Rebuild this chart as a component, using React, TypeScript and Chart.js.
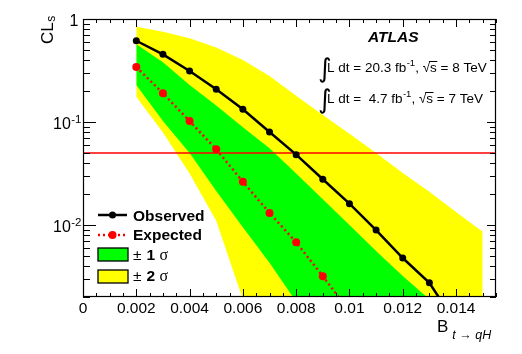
import React, { useEffect, useRef } from 'react';
import { Chart, registerables } from 'chart.js';

Chart.register(...registerables);

// ---------------- data ----------------
const bandB = [0.002, 0.003, 0.004, 0.005, 0.006, 0.007, 0.008, 0.009, 0.01, 0.011, 0.012, 0.013, 0.014, 0.015];
const band2SigmaHigh = [0.84, 0.75, 0.65, 0.53, 0.4, 0.28, 0.18, 0.117, 0.077, 0.05, 0.032, 0.021, 0.0134, 0.0086];
const band1SigmaHigh = [0.57, 0.38, 0.229, 0.145, 0.089, 0.0555, 0.0316, 0.0178, 0.01, 0.0056, 0.0032, 0.0019, 0.00105, 0.0006];
const band1SigmaLow = [0.229, 0.102, 0.05, 0.0214, 0.0095, 0.0043, 0.0018, 0.0008, 0.00035, 0.00016, 0.00007, 0.00003, 0.000014, 0.000006];
const band2SigmaLow = [0.176, 0.079, 0.0316, 0.011, 0.0019, 0.00034, 0.00006, 0.00001, 0.000002, 0.0000004, 0.0000001, 0.00000002, 0.000000005, 0.000000001];

const obsB = [0.002, 0.003, 0.004, 0.005, 0.006, 0.007, 0.008, 0.009, 0.01, 0.011, 0.012, 0.013, 0.014];
const obsCLs = [0.615, 0.454, 0.313, 0.208, 0.133, 0.08, 0.0482, 0.0278, 0.0161, 0.00894, 0.00478, 0.00275, 0.0011];

const expB = [0.002, 0.003, 0.004, 0.005, 0.006, 0.007, 0.008, 0.009, 0.01];
const expCLs = [0.342, 0.19, 0.102, 0.0543, 0.0263, 0.0131, 0.00679, 0.00318, 0.00145];

const thresholdB = [0, 0.0155];
const thresholdCLs = [0.05, 0.05];

const xMin = 0;
const xMax = 0.0155;
const yMin = 0.002;
const yMax = 1;

const xTickValues = [0, 0.002, 0.004, 0.006, 0.008, 0.01, 0.012, 0.014];
const xTickLabels = ['0', '0.002', '0.004', '0.006', '0.008', '0.01', '0.012', '0.014'];
const yTickValues = [1, 0.1, 0.01];
const yTickBase = ['1', '10', '10'];
const yTickExp = ['', '-1', '-2'];

const legendLabels = ['Observed', 'Expected', '1', '2'];

// ---------------- helpers ----------------
const SANS = '"Liberation Sans", Arial, Helvetica, sans-serif';
const SERIF = '"Liberation Serif", "Times New Roman", serif';

function txt(
  ctx: CanvasRenderingContext2D,
  s: string,
  x: number,
  y: number,
  size: number,
  o: { bold?: boolean; italic?: boolean; align?: CanvasTextAlign; family?: string; color?: string } = {}
) {
  ctx.font = `${o.italic ? 'italic ' : ''}${o.bold ? 'bold ' : ''}${size}px ${o.family || SANS}`;
  ctx.textAlign = o.align || 'left';
  ctx.textBaseline = 'alphabetic';
  ctx.fillStyle = o.color || '#000';
  ctx.fillText(s, x, y);
  return ctx.measureText(s).width;
}

const pts = (xs: number[], ys: number[]) => xs.map((x, i) => ({ x, y: ys[i] }));

const decorPlugin = {
  id: 'decor',
  afterDatasetsDraw(chart: any) {
    const { ctx, chartArea: a, scales } = chart;
    const xs = scales.x;
    const ys = scales.y;
    ctx.save();
    ctx.strokeStyle = '#000';
    ctx.lineWidth = 1;
    ctx.beginPath();
    // x ticks (bottom and top, pointing inward)
    for (let i = 0; i * 0.0005 <= xMax + 1e-9; i++) {
      const v = i * 0.0005;
      const px = Math.round(xs.getPixelForValue(v)) + 0.5;
      const len = i % 4 === 0 ? 8 : 4;
      ctx.moveTo(px, a.bottom);
      ctx.lineTo(px, a.bottom - len);
      ctx.moveTo(px, a.top);
      ctx.lineTo(px, a.top + len);
    }
    // y ticks (left and right)
    for (let e = -3; e <= 0; e++) {
      for (let k = 1; k <= 9; k++) {
        const v = k * Math.pow(10, e);
        if (v < yMin * 0.999 || v > yMax * 1.001) continue;
        const py = Math.round(ys.getPixelForValue(v)) + 0.5;
        const major = k === 1;
        ctx.moveTo(a.left, py);
        ctx.lineTo(a.left + (major ? 13 : 7), py);
        ctx.moveTo(a.right, py);
        ctx.lineTo(a.right - (major ? 9 : 6), py);
      }
    }
    ctx.stroke();
    // frame
    ctx.lineWidth = 1.2;
    ctx.strokeRect(a.left + 0.5, a.top + 0.5, a.right - a.left - 1, a.bottom - a.top - 1);
    ctx.restore();
  },
  afterDraw(chart: any) {
    const { ctx, scales } = chart;
    const xs = scales.x;
    const ys = scales.y;
    ctx.save();
    // x tick labels
    xTickValues.forEach((v, i) => {
      txt(ctx, xTickLabels[i], xs.getPixelForValue(v), 313, 15.5, { align: 'center' });
    });
    // y tick labels
    yTickValues.forEach((v, i) => {
      const base = ys.getPixelForValue(v) + 6.5;
      if (!yTickExp[i]) {
        txt(ctx, yTickBase[i], 78.5, base, 16, { align: 'right' });
      } else {
        ctx.font = `11.5px ${SANS}`;
        const w2 = ctx.measureText(yTickExp[i]).width;
        ctx.font = `16px ${SANS}`;
        const w1 = ctx.measureText(yTickBase[i]).width;
        const R = 81.5;
        txt(ctx, yTickBase[i], R - w2 - w1 - 0.5, base, 16);
        txt(ctx, yTickExp[i], R - w2, base - 6, 11.5);
      }
    });
    // x title
    const wB = txt(ctx, 'B', 437, 332, 17);
    txt(ctx, 't \u2192 qH', 437 + wB + 4, 338.5, 12.5, { italic: true });
    // y title (rotated)
    ctx.save();
    ctx.translate(53, 44);
    ctx.rotate(-Math.PI / 2);
    const wCL = txt(ctx, 'CL', 0, 0, 17);
    txt(ctx, 's', wCL + 0.5, 2, 12);
    ctx.restore();

    // ATLAS label
    txt(ctx, 'ATLAS', 368, 41.5, 15.5, { bold: true, italic: true });
    const lumi = (y: number, a: string, b: string) => {
      // integral sign
      txt(ctx, '\u222B', 318, y + 5, 26, { family: '"DejaVu Sans", sans-serif' });
      let x = 327;
      x += txt(ctx, a, x, y, 13.5);
      x += txt(ctx, '-1', x + 0.5, y - 6, 9.5) + 0.5;
      x += txt(ctx, ', ', x, y, 13.5);
      const wr = txt(ctx, '\u221A', x, y, 13.5);
      x += wr;
      const ws = txt(ctx, 's', x, y, 13.5);
      ctx.strokeStyle = '#000';
      ctx.lineWidth = 1;
      ctx.beginPath();
      ctx.moveTo(x - 1, y - 10.5);
      ctx.lineTo(x + ws + 0.5, y - 10.5);
      ctx.stroke();
      x += ws;
      txt(ctx, b, x, y, 13.5);
    };
    lumi(72, 'L dt = 20.3 fb', ' = 8 TeV');
    lumi(103, 'L dt =  4.7 fb', ' = 7 TeV');

    // legend
    const lx0 = 98;
    const lx1 = 127;
    const lmx = 112.5;
    // Observed
    ctx.strokeStyle = '#000';
    ctx.lineWidth = 2.5;
    ctx.beginPath();
    ctx.moveTo(lx0, 215);
    ctx.lineTo(lx1, 215);
    ctx.stroke();
    ctx.fillStyle = '#000';
    ctx.beginPath();
    ctx.arc(lmx, 215, 3.5, 0, Math.PI * 2);
    ctx.fill();
    txt(ctx, legendLabels[0], 133, 220.5, 15.5, { bold: true });
    // Expected
    ctx.strokeStyle = '#ff0000';
    ctx.setLineDash([2, 3]);
    ctx.beginPath();
    ctx.moveTo(lx0, 235);
    ctx.lineTo(lx1, 235);
    ctx.stroke();
    ctx.setLineDash([]);
    ctx.fillStyle = '#ff0000';
    ctx.beginPath();
    ctx.arc(lmx, 235, 4, 0, Math.PI * 2);
    ctx.fill();
    txt(ctx, legendLabels[1], 133, 240, 15.5, { bold: true });
    // boxes
    const box = (y0: number, color: string, n: string, base: number) => {
      ctx.fillStyle = color;
      ctx.fillRect(lx0, y0, 30, 13);
      ctx.strokeStyle = '#000';
      ctx.lineWidth = 1.3;
      ctx.strokeRect(lx0, y0, 30, 13);
      txt(ctx, '\u00B1', 133, base, 15.5);
      txt(ctx, n, 146.5, base, 15.5, { bold: true });
      txt(ctx, '\u03C3', 159.5, base, 16, { family: SERIF });
    };
    box(248, '#00ff00', legendLabels[2], 259.5);
    box(270, '#ffff00', legendLabels[3], 281);
    ctx.restore();
  },
};

export default function App() {
  const ref = useRef<HTMLCanvasElement>(null);
  useEffect(() => {
    const canvas = ref.current;
    if (!canvas) return;
    const noLine = 'rgba(0,0,0,0)';
    const chart = new Chart(canvas, {
      type: 'line',
      data: {
        datasets: [
          {
            label: 'Observed',
            data: pts(obsB, obsCLs),
            borderColor: '#000',
            backgroundColor: '#000',
            borderWidth: 2.5,
            pointRadius: 3.5,
            pointBorderWidth: 0,
            pointBackgroundColor: '#000',
            fill: false,
            clip: 0,
          },
          {
            label: 'Expected',
            data: pts(expB, expCLs),
            borderColor: '#ff0000',
            backgroundColor: '#ff0000',
            borderWidth: 2.5,
            borderDash: [2, 3],
            pointRadius: 4,
            pointBorderWidth: 0,
            pointBackgroundColor: '#ff0000',
            fill: false,
            clip: 0,
          },
          {
            label: 'CLs = 0.05',
            data: pts(thresholdB, thresholdCLs),
            borderColor: '#ff0000',
            borderWidth: 1.5,
            pointRadius: 0,
            fill: false,
            clip: 0,
          },
          {
            label: '+1 sigma',
            data: pts(bandB, band1SigmaHigh),
            borderColor: noLine,
            borderWidth: 0,
            backgroundColor: '#00ff00',
            pointRadius: 0,
            fill: { target: 4 },
            clip: 0,
          },
          {
            label: '-1 sigma',
            data: pts(bandB, band1SigmaLow),
            borderColor: noLine,
            borderWidth: 0,
            pointRadius: 0,
            fill: false,
            clip: 0,
          },
          {
            label: '+2 sigma',
            data: pts(bandB, band2SigmaHigh),
            borderColor: noLine,
            borderWidth: 0,
            backgroundColor: '#ffff00',
            pointRadius: 0,
            fill: { target: 6 },
            clip: 0,
          },
          {
            label: '-2 sigma',
            data: pts(bandB, band2SigmaLow),
            borderColor: noLine,
            borderWidth: 0,
            pointRadius: 0,
            fill: false,
            clip: 0,
          },
        ],
      },
      options: {
        responsive: false,
        devicePixelRatio: 1,
        animation: false,
        events: [],
        layout: { padding: { left: 83, right: 26, top: 19, bottom: 57 } },
        scales: {
          x: { type: 'linear', min: xMin, max: xMax, display: false },
          y: { type: 'logarithmic', min: yMin, max: yMax, display: false },
        },
        plugins: {
          legend: { display: false },
          tooltip: { enabled: false },
        },
      },
      plugins: [decorPlugin],
    } as any);
    return () => chart.destroy();
  }, []);
  return (
    <div style={{ position: 'fixed', left: 0, top: 0, width: 522, height: 354, background: '#fff' }}>
      <canvas ref={ref} width={522} height={354} style={{ display: 'block', width: 522, height: 354 }} />
    </div>
  );
}
